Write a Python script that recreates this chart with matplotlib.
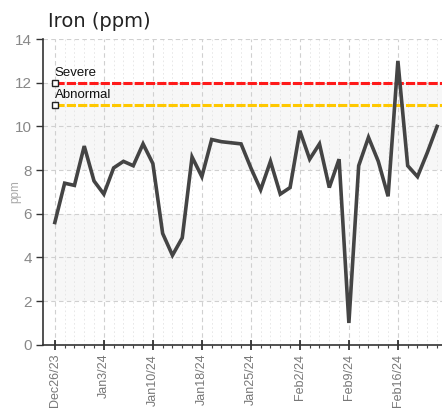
"""Iron (ppm) trend chart with severity limits."""

import matplotlib
matplotlib.use("Agg")
import matplotlib.pyplot as plt
from matplotlib.ticker import MultipleLocator

iron_ppm = [
    5.6, 7.4, 7.3, 9.1, 7.5, 6.9, 8.1, 8.4, 8.2, 9.2,
    8.3, 5.1, 4.1, 4.9, 8.6, 7.7, 9.4, 9.3, 9.25, 9.2,
    8.1, 7.1, 8.4, 6.9, 7.2, 9.8, 8.5, 9.2, 7.2, 8.5,
    1.0, 8.2, 9.5, 8.4, 6.8, 13.0, 8.2, 7.7, 8.8, 10.0,
]
tick_index = [0, 5, 10, 15, 20, 25, 30, 35]
tick_labels = ["Dec26/23", "Jan3/24", "Jan10/24", "Jan18/24",
               "Jan25/24", "Feb2/24", "Feb9/24", "Feb16/24"]
limit_names = ["Severe", "Abnormal"]
limit_values = [12, 11]
limit_colors = ["#ff1a1a", "#ffc800"]
band_ranges = [(2, 6), (8, 12)]

narrow = ["Liberation Sans Narrow", "Liberation Sans", "DejaVu Sans"]

fig = plt.figure(figsize=(4.42, 4.11), dpi=100)
ax = fig.add_axes([0.097, 0.161, 0.903, 0.744])

x = list(range(len(iron_ppm)))
ax.set_xlim(-1.22, 39.5)
ax.set_ylim(0, 14)

for lo, hi in band_ranges:
    ax.axhspan(lo, hi, color="#f7f7f7", zorder=0, lw=0)

# limit lines with their labels
for name, val, col in zip(limit_names, limit_values, limit_colors):
    ax.plot([0, 39.5], [val, val], color=col, lw=2.2, dashes=(3, 0.7),
            solid_capstyle="butt", zorder=3, clip_on=False)
    ax.plot([0], [val], marker="s", ms=4, mfc="white", mec="#222222",
            mew=1.0, zorder=5, clip_on=False)
    ax.annotate(name, (0, val), xytext=(0, 2.5), textcoords="offset points",
                ha="left", va="bottom", fontsize=9.5, family=narrow,
                color="#111111", zorder=6)

ax.plot(x, iron_ppm, color="#444444", lw=2.6, zorder=4,
        solid_joinstyle="miter")

ax.yaxis.set_major_locator(MultipleLocator(2))
ax.set_xticks(tick_index)
ax.set_xticklabels(tick_labels, rotation=90, family=narrow, fontsize=9,
                   color="#777777")
ax.set_xticks(x, minor=True)
for lbl in ax.get_yticklabels():
    lbl.set_family(narrow)
ax.tick_params(axis="y", labelsize=11, labelcolor="#888888", direction="out",
               length=5, width=1, color="#333333", pad=3)
ax.tick_params(axis="x", which="major", direction="inout", length=7, width=1.2,
               color="#222222", pad=3)
ax.tick_params(axis="x", which="minor", direction="out", length=2.5,
               width=0.8, color="#444444")

ax.grid(True, which="major", color="#d0d0d0", lw=0.8, linestyle=(0, (4, 3)))
ax.grid(True, which="minor", axis="x", color="#e4e4e4", lw=0.6,
        linestyle=(0, (2, 3)))
ax.set_axisbelow(True)

for side in ("top", "right"):
    ax.spines[side].set_visible(False)
for side in ("left", "bottom"):
    ax.spines[side].set_color("#333333")
    ax.spines[side].set_linewidth(1.2)

fig.text(0.035, 0.535, "ppm", fontsize=8.5, color="#aaaaaa", rotation=90,
         ha="center", va="center", family=narrow)
fig.text(0.109, 0.935, "Iron (ppm)", fontsize=14, color="#222222",
         ha="left", va="baseline")

fig.savefig("out.png", dpi=100)
